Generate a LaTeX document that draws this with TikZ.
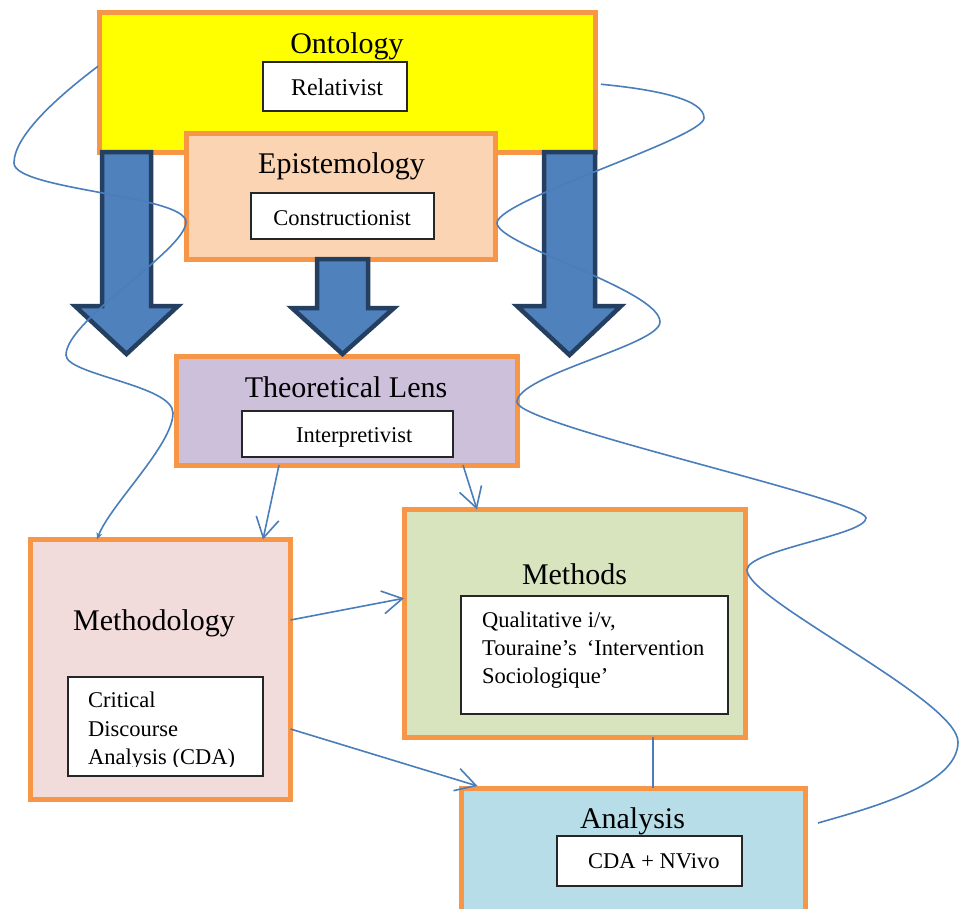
\documentclass[tikz,border=0pt]{standalone}
\usepackage{fontspec}
\setmainfont{Liberation Serif}
\usetikzlibrary{arrows.meta}
\definecolor{boxline}{HTML}{F79646}
\definecolor{ontofill}{HTML}{FFFF00}
\definecolor{epifill}{HTML}{FBD4B4}
\definecolor{lensfill}{HTML}{CCC0DA}
\definecolor{methodologyfill}{HTML}{F2DCDB}
\definecolor{methodsfill}{HTML}{D7E4BD}
\definecolor{analysisfill}{HTML}{B7DDE8}
\definecolor{insetline}{HTML}{262626}
\definecolor{arrowfill}{HTML}{4F81BD}
\definecolor{arrowline}{HTML}{243F60}
\definecolor{linkblue}{HTML}{4A7EBB}
\begin{document}
\begin{tikzpicture}[x=1pt,y=-1pt,
  panel/.style={draw=boxline, line width=5pt, rectangle, inner sep=0pt, outer sep=0pt, anchor=north west},
  inset/.style={draw=insetline, fill=white, line width=1.3pt, rectangle, inner sep=0pt, outer sep=0pt, anchor=north west},
  title/.style={font=\fontsize{30}{36}\selectfont, inner sep=0pt, anchor=base},
  entry/.style={font=\fontsize{22.5}{28}\selectfont, inner sep=0pt, anchor=base west},
  bigarrow/.style={fill=arrowfill, draw=arrowline, line width=4.5pt, line join=miter, miter limit=10},
  link/.style={draw=linkblue, line width=1.6pt, -{Straight Barb[length=20pt,width=23pt]}},
  wave/.style={draw=linkblue, line width=1.6pt}
]
\useasboundingbox (0,0) rectangle (961,908);
\fill[white] (0,0) rectangle (961,908);
\clip (0,0) rectangle (961,908);

% Ontology
\node[panel, fill=ontofill, minimum width=496pt, minimum height=139.5pt] (onto) at (99.5,12.5) {};
\node[title] (ontot) at (347,53) {Ontology};
\node[inset, minimum width=144pt, minimum height=49pt] (rel) at (263,62) {};
\node[font=\fontsize{24}{28}\selectfont, inner sep=0pt, anchor=base] (relt) at (337,95) {Relativist};

% Epistemology
\node[panel, fill=epifill, minimum width=309.5pt, minimum height=126pt] (epi) at (186,133) {};
\node[title] (epit) at (341.5,173) {Epistemology};
\node[inset, minimum width=183pt, minimum height=46pt] (cons) at (251,193) {};
\node[entry, anchor=base] (const) at (342,225) {Constructionist};

% Theoretical lens
\node[panel, fill=lensfill, minimum width=341pt, minimum height=108.5pt] (lens) at (176,356.5) {};
\node[title] (lenst) at (346,397) {Theoretical Lens};
\node[inset, minimum width=211pt, minimum height=46pt] (interp) at (242,411) {};
\node[entry] (interpt) at (296,442) {Interpretivist};

% Broad downward arrows
\draw[bigarrow] (102,152) -- (151,152) -- (151,306) -- (178,306) -- (126.5,354) -- (75,306) -- (102,306) -- cycle;
\draw[bigarrow] (317,259) -- (368,259) -- (368,308) -- (394,308) -- (342.5,354) -- (292,308) -- (317,308) -- cycle;
\draw[bigarrow] (544,152) -- (595,152) -- (595,306) -- (621,306) -- (569.5,355) -- (517,306) -- (544,306) -- cycle;

% Methodology
\node[panel, fill=methodologyfill, minimum width=260pt, minimum height=260pt] (mgy) at (30.5,539.5) {};
\node[title] (mgyt) at (154,630) {Methodology};
\node[inset, minimum width=195pt, minimum height=99pt] (cda) at (68,677) {};
\begin{scope}
  \clip (68,677) rectangle (263,766);
  \node[entry] (cda1) at (88,707) {Critical};
  \node[entry] (cda2) at (88,736) {Discourse};
  \node[entry] (cda3) at (88,764) {Analysis (CDA)};
\end{scope}

% Methods
\node[panel, fill=methodsfill, minimum width=341pt, minimum height=227.5pt] (mth) at (404,509.5) {};
\node[title] (mtht) at (574.5,584) {Methods};
\node[inset, minimum width=267pt, minimum height=118pt] (qual) at (461,596) {};
\node[entry] (qual1) at (482,627) {Qualitative i/v,};
\node[entry] (qual2) at (482,655) {Touraine’s\hspace{0.45em}‘Intervention};
\node[entry] (qual3) at (482,683) {Sociologique’};

% Analysis
\node[panel, fill=analysisfill, minimum width=343.5pt, minimum height=150pt] (ana) at (461.5,788) {};
\node[title] (anat) at (632.5,828) {Analysis};
\node[inset, minimum width=185pt, minimum height=50pt] (nv) at (557,836) {};
\node[entry] (nvt) at (588,868) {CDA + NVivo};

% Thin connectors
\draw[link] ([xshift=-67.5pt]lens.south) -- ([xshift=102.5pt]mgy.north);
\draw[link] ([xshift=116.5pt]lens.south) -- ([xshift=-97.5pt]mth.north);
\draw[link] ([yshift=49.5pt]mgy.east) -- ([yshift=25pt]mth.west);
\draw[link] ([yshift=-59.5pt]mgy.east) -- ([xshift=16pt,yshift=2pt]ana.north west);
\draw[draw=linkblue, line width=1.6pt] ([xshift=78.5pt]mth.south) -- ([xshift=78.5pt]mth.south |- ana.north);

% Winding connector on the left, from Ontology down to Methodology
\draw[wave, -{Stealth[length=7pt,width=6pt]}]
  ([xshift=-1.5pt,yshift=16pt]onto.west)
  .. controls (60,95) and (14,135) .. (14,163)
  .. controls (14,190) and (186,195) .. (186,222)
  .. controls (186,250) and (66,320) .. (66,355)
  .. controls (66,375) and (173,385) .. (173,413)
  .. controls (173,445) and (110,505) .. ([xshift=-63.5pt]mgy.north);

% Winding connector on the right, from Ontology down beside Analysis
\coordinate (waveend) at (818,823);
\draw[wave]
  ([xshift=5.5pt,yshift=-2pt]onto.east)
  .. controls (660,90) and (704,100) .. (704,118)
  .. controls (704,138) and (497,200) .. (497,223)
  .. controls (497,245) and (660,290) .. (660,322)
  .. controls (660,345) and (517,375) .. (517,402)
  .. controls (517,425) and (866,500) .. (866,518)
  .. controls (866,535) and (747,550) .. (747,570)
  .. controls (747,600) and (958,700) .. (958,742)
  .. controls (958,785) and (870,808) .. (waveend);
\end{tikzpicture}
\end{document}
